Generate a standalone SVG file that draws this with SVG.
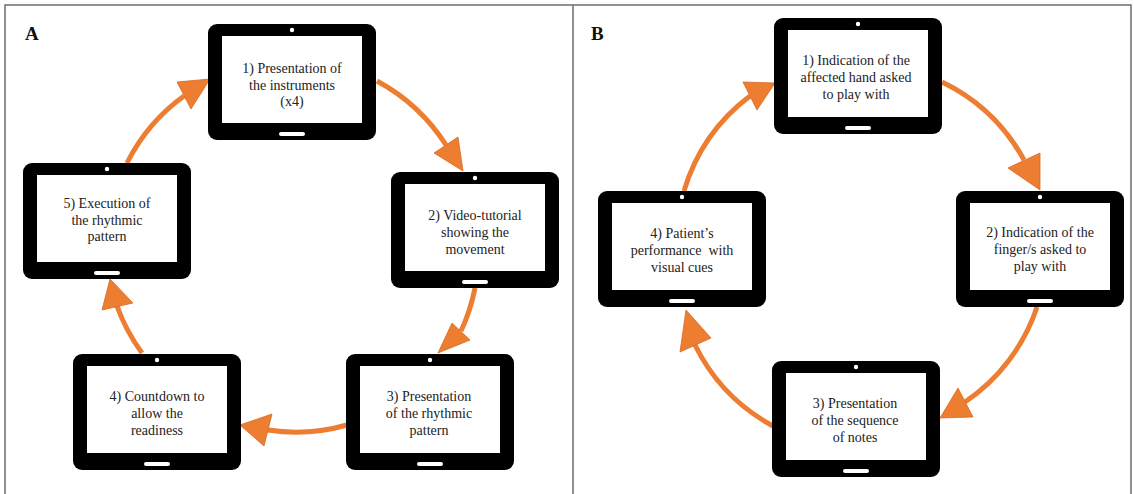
<svg xmlns="http://www.w3.org/2000/svg" xmlns:xlink="http://www.w3.org/1999/xlink" width="1134" height="494" viewBox="0 0 1134 494">
<style>
.lbl{font-family:"Liberation Serif","Times New Roman",serif;font-size:14px;fill:#222;text-anchor:middle}
.panel{font-family:"Liberation Serif","Times New Roman",serif;font-size:19px;font-weight:bold;fill:#111}
.arc{fill:none;stroke:#ED7D31;stroke-width:5}
.head{fill:#ED7D31;stroke:#D86A22;stroke-width:0.8}
</style>
<defs>
<g id="tab">
<rect width="168" height="116" rx="9" fill="#000"/>
<rect x="14" y="12" width="140" height="87" fill="#fff"/>
<circle cx="84" cy="6" r="2.2" fill="#fff"/>
<rect x="71" y="108" width="26" height="4" rx="2" fill="#fff"/>
</g>
</defs>
<rect width="1134" height="494" fill="#fff"/>
<g id="frame" fill="none" stroke="#777" stroke-width="1.6">
<rect x="5" y="5" width="1126" height="500"/>
<line x1="573" y1="5" x2="573" y2="494"/>
</g>
<text class="panel" x="25" y="40">A</text>
<text class="panel" x="591" y="40">B</text>
<g id="connectors">
<path class="arc" d="M127,163 A185,185 0 0 1 184,96"/>
<polygon class="head" points="177,82 191,109 210,79"/>
<path class="arc" d="M377,81 A188,188 0 0 1 446,145"/>
<polygon class="head" points="434,153 458,137 463,171"/>
<path class="arc" d="M475,288 A185,185 0 0 1 461,331"/>
<polygon class="head" points="452,323 470,340 438,353"/>
<path class="arc" d="M347,425 A185,185 0 0 1 268,430"/>
<polygon class="head" points="272,414 264,446 240,425"/>
<path class="arc" d="M142,353 A185,185 0 0 1 117,306"/>
<polygon class="head" points="102,310 133,303 110,279"/>
<path class="arc" d="M684,191 A185,185 0 0 1 750,96"/>
<polygon class="head" points="743,82 757,110 775,83"/>
<path class="arc" d="M942,82 A185,185 0 0 1 1024,160"/>
<polygon class="head" points="1008,168 1040,153 1040,190"/>
<path class="arc" d="M1037,307 A185,185 0 0 1 965,402"/>
<polygon class="head" points="958,388 973,417 940,418"/>
<path class="arc" d="M773,426 A185,185 0 0 1 695,345"/>
<polygon class="head" points="680,352 711,338 686,310"/>
</g>
<g id="a1">
<use xlink:href="#tab" href="#tab" x="208" y="24"/>
<text class="lbl" x="292" y="73">1) Presentation of</text>
<text class="lbl" x="292" y="90">the instruments</text>
<text class="lbl" x="292" y="106">(x4)</text>
</g>
<g id="a2">
<use xlink:href="#tab" href="#tab" x="391" y="172"/>
<text class="lbl" x="475" y="220">2) Video-tutorial</text>
<text class="lbl" x="475" y="237">showing the</text>
<text class="lbl" x="475" y="254">movement</text>
</g>
<g id="a3">
<use xlink:href="#tab" href="#tab" x="346" y="354"/>
<text class="lbl" x="429" y="401">3) Presentation</text>
<text class="lbl" x="429" y="418">of the rhythmic</text>
<text class="lbl" x="429" y="435">pattern</text>
</g>
<g id="a4">
<use xlink:href="#tab" href="#tab" x="73" y="354"/>
<text class="lbl" x="157" y="401">4) Countdown to</text>
<text class="lbl" x="157" y="418">allow the</text>
<text class="lbl" x="157" y="435">readiness</text>
</g>
<g id="a5">
<use xlink:href="#tab" href="#tab" x="23" y="163"/>
<text class="lbl" x="107" y="208">5) Execution of</text>
<text class="lbl" x="107" y="225">the rhythmic</text>
<text class="lbl" x="107" y="241">pattern</text>
</g>
<g id="b1">
<use xlink:href="#tab" href="#tab" x="774" y="18"/>
<text class="lbl" x="856" y="65">1) Indication of the</text>
<text class="lbl" x="856" y="82">affected hand asked</text>
<text class="lbl" x="856" y="99">to play with</text>
</g>
<g id="b2">
<use xlink:href="#tab" href="#tab" x="956" y="191"/>
<text class="lbl" x="1040" y="237">2) Indication of the</text>
<text class="lbl" x="1040" y="254">finger/s asked to</text>
<text class="lbl" x="1040" y="271">play with</text>
</g>
<g id="b3">
<use xlink:href="#tab" href="#tab" x="772" y="361"/>
<text class="lbl" x="855" y="408">3) Presentation</text>
<text class="lbl" x="855" y="425">of the sequence</text>
<text class="lbl" x="855" y="442">of notes</text>
</g>
<g id="b4">
<use xlink:href="#tab" href="#tab" x="598" y="191"/>
<text class="lbl" x="682" y="238">4) Patient’s</text>
<text class="lbl" x="682" y="255" style="white-space:pre">performance  with</text>
<text class="lbl" x="682" y="272">visual cues</text>
</g>
</svg>
